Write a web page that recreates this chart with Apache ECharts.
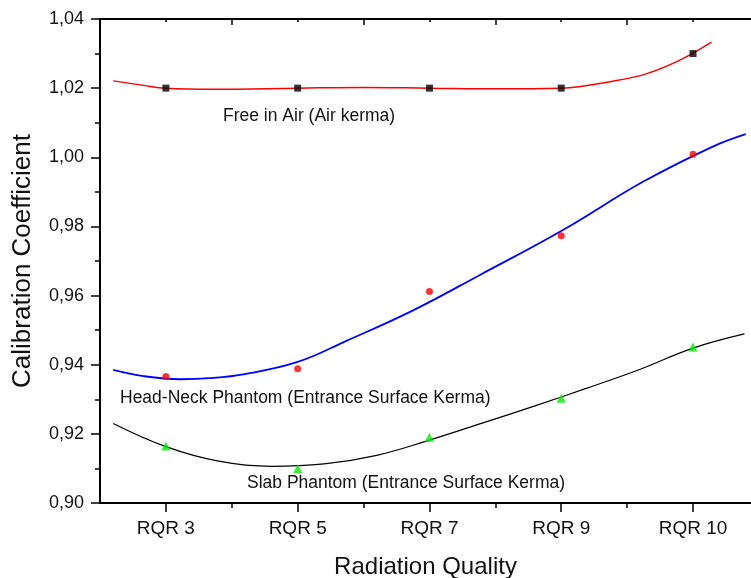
<!DOCTYPE html>
<html>
<head>
<meta charset="utf-8">
<script src="https://cdn.jsdelivr.net/npm/echarts@6/dist/echarts.min.js"></script>
<style>
html,body{margin:0;padding:0;background:#fff;}
#chart{width:751px;height:578px;}
</style>
</head>
<body>
<div id="chart"></div>
<script>
// ---- data ----
const categories = ['RQR 3', 'RQR 5', 'RQR 7', 'RQR 9', 'RQR 10'];
const categoryPos = [1, 2, 3, 4, 5];
const minorPos = [1.5, 2.5, 3.5, 4.5];

const freeInAir = [1.020, 1.020, 1.020, 1.020, 1.030];
const headNeck = [0.9366, 0.9388, 0.9612, 0.9773, 1.0009];
const slab = [0.9165, 0.9100, 0.9190, 0.9303, 0.9451];

// fitted curves (category units, value)
const freeFitX = [0.60, 0.83, 1.00, 1.37, 2.00, 2.50, 3.00, 3.50, 4.00, 4.39, 4.65, 4.90, 5.14];
const freeFitY = [1.0221, 1.0208, 1.0200, 1.0197, 1.0200, 1.0202, 1.0200, 1.0198, 1.0200, 1.0220, 1.0242, 1.0281, 1.0333];

const headFitX = [0.60, 0.83, 1.11, 1.33, 1.60, 2.00, 2.37, 2.88, 3.38, 4.01, 4.62, 5.15, 5.40];
const headFitY = [0.9385, 0.9367, 0.9358, 0.9361, 0.9373, 0.9408, 0.9469, 0.9558, 0.9659, 0.9789, 0.9929, 1.0031, 1.0067];

const slabFitX = [0.60, 1.00, 1.40, 1.80, 2.20, 2.60, 3.00, 3.40, 3.80, 4.20, 4.60, 5.00, 5.39];
const slabFitY = [0.9230, 0.9163, 0.9121, 0.9106, 0.9113, 0.9138, 0.9182, 0.9231, 0.9281, 0.9333, 0.9387, 0.9448, 0.9489];

const yTickLabelsDecimalSep = ',';

// ---- chart ----
const FONT = "'Liberation Sans', Arial, sans-serif";
const zip = (xs, ys) => xs.map((x, i) => [x, ys[i]]);

const chart = echarts.init(document.getElementById('chart'), null, {renderer: 'canvas'});

const X_MIN = 0.5, X_MAX = 5.44;
const baseX = {
  type: 'value', min: X_MIN, max: X_MAX, gridIndex: 0,
  splitLine: {show: false},
  axisLine: {show: false, onZero: false},
  axisLabel: {show: false},
  axisTick: {show: false}
};

chart.setOption({
  animation: false,
  backgroundColor: '#fff',
  grid: {left: 100, top: 19, right: 0, bottom: 75, containLabel: false, outerBoundsMode: 'none'},
  xAxis: [
    Object.assign({}, baseX, {
      position: 'bottom',
      axisLine: {show: true, onZero: false, lineStyle: {color: '#000', width: 2}},
      axisTick: {show: true, customValues: categoryPos, length: 9, lineStyle: {color: '#000', width: 1.5}},
      axisLabel: {show: true, customValues: categoryPos, margin: 16,
        formatter: v => categories[Math.round(v) - 1] || '',
        color: '#111', fontSize: 19, fontFamily: FONT},
      name: 'Radiation Quality', nameLocation: 'middle', nameGap: 52,
      nameTextStyle: {color: '#111', fontSize: 24, fontFamily: FONT}
    }),
    Object.assign({}, baseX, {
      position: 'bottom',
      axisTick: {show: true, customValues: minorPos, length: 5, lineStyle: {color: '#000', width: 1.5}}
    }),
    Object.assign({}, baseX, {
      position: 'top',
      axisLine: {show: true, onZero: false, lineStyle: {color: '#000', width: 2}},
      axisTick: {show: true, inside: true, customValues: categoryPos, length: 3, lineStyle: {color: '#000', width: 1.5}}
    }),
    Object.assign({}, baseX, {
      position: 'top',
      axisTick: {show: true, inside: true, customValues: minorPos, length: 6, lineStyle: {color: '#000', width: 1.5}}
    })
  ],
  yAxis: {
    type: 'value', min: 0.90, max: 1.04, interval: 0.02,
    splitLine: {show: false},
    axisLine: {show: true, onZero: false, lineStyle: {color: '#000', width: 2}},
    axisTick: {show: true, length: 9, lineStyle: {color: '#000', width: 1.5}},
    minorTick: {show: true, splitNumber: 2, length: 5, lineStyle: {color: '#000', width: 1.5}},
    axisLabel: {margin: 16, color: '#111', fontSize: 18, fontFamily: FONT,
      formatter: v => v.toFixed(2).replace('.', yTickLabelsDecimalSep)},
    name: 'Calibration Coefficient', nameLocation: 'middle', nameGap: 64,
    nameTextStyle: {color: '#111', fontSize: 26, fontFamily: FONT}
  },
  series: [
    {type: 'line', name: 'freeFit', data: zip(freeFitX, freeFitY), smooth: 0.4, showSymbol: false,
      lineStyle: {color: '#ff0000', width: 1.5}, z: 2},
    {type: 'line', name: 'headFit', data: zip(headFitX, headFitY), smooth: 0.4, showSymbol: false,
      lineStyle: {color: '#0000ff', width: 1.8}, z: 2},
    {type: 'line', name: 'slabFit', data: zip(slabFitX, slabFitY), smooth: 0.4, showSymbol: false,
      lineStyle: {color: '#000000', width: 1.2}, z: 2},
    {type: 'scatter', name: 'Free in Air', data: zip(categoryPos, freeInAir), symbol: 'rect', symbolSize: 7,
      itemStyle: {color: '#000'}, z: 3},
    {type: 'scatter', name: 'Head-Neck', data: zip(categoryPos, headNeck), symbol: 'circle', symbolSize: 7,
      itemStyle: {color: '#ff0000'}, z: 3},
    {type: 'scatter', name: 'Slab', data: zip(categoryPos, slab), symbol: 'triangle', symbolSize: 9,
      itemStyle: {color: '#00ee00'}, z: 3}
  ],
  graphic: [
    {type: 'text', left: 223, top: 107, style: {text: 'Free in Air (Air kerma)', fill: '#111', font: "17.5px " + FONT}},
    {type: 'text', left: 120, top: 389, style: {text: 'Head-Neck Phantom (Entrance Surface Kerma)', fill: '#111', font: "17.5px " + FONT}},
    {type: 'text', left: 247, top: 474, style: {text: 'Slab Phantom (Entrance Surface Kerma)', fill: '#111', font: "17.5px " + FONT}}
  ]
});
</script>
</body>
</html>
